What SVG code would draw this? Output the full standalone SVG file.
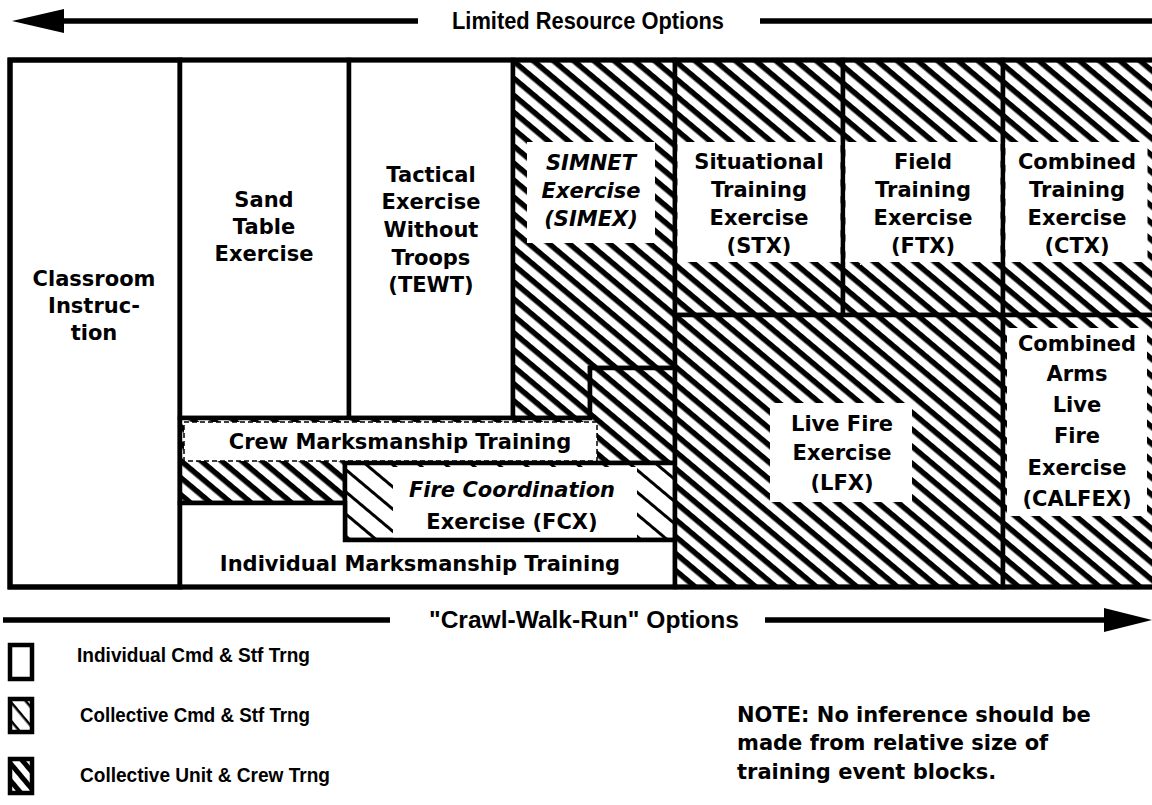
<svg xmlns="http://www.w3.org/2000/svg" width="1152" height="805" viewBox="0 0 1152 805">
<style>
.reg{stroke:#000;stroke-width:4.5;stroke-linejoin:miter}
.w{fill:#fff}
.hd{fill:url(#hd)}
.hl{fill:url(#hl)}
.lbl{fill:#fff;stroke:none}
.dash{stroke:#000;stroke-width:1.5;stroke-dasharray:5 3}
.t{font-family:"DejaVu Sans",sans-serif;font-weight:bold;font-size:21px;fill:#000;text-anchor:middle}
.it{font-style:italic}
.a{font-family:"Liberation Sans",Arial,sans-serif;font-weight:bold;font-size:24px;fill:#000;text-anchor:middle}
.lg{font-family:"Liberation Sans",Arial,sans-serif;font-weight:bold;font-size:21px;fill:#000}
.note{font-family:"DejaVu Sans",sans-serif;font-weight:bold;font-size:21px;fill:#000}
.ln{stroke:#000;stroke-width:5.5;fill:none}
</style>
<defs>
<pattern id="hd" patternUnits="userSpaceOnUse" width="13" height="13" patternTransform="rotate(40)"><rect width="13" height="13" fill="#fff"/><rect width="13" height="5.5" fill="#000"/></pattern>
<pattern id="hl" patternUnits="userSpaceOnUse" width="17" height="17" patternTransform="rotate(40)"><rect width="17" height="17" fill="#fff"/><rect width="17" height="3" fill="#000"/></pattern>
<pattern id="lgl" patternUnits="userSpaceOnUse" width="12" height="12" patternTransform="translate(10,699) rotate(50)"><rect width="12" height="12" fill="#fff"/><rect width="12" height="2.5" fill="#000"/></pattern>
<pattern id="lgd" patternUnits="userSpaceOnUse" width="11" height="11" patternTransform="translate(10,759) rotate(50)"><rect width="11" height="11" fill="#fff"/><rect width="11" height="5" fill="#000"/></pattern>
</defs>
<rect width="1152" height="805" fill="#fff"/>

<g id="connectors">
<line class="ln" x1="60" y1="21" x2="418" y2="21"/>
<polygon points="12,21 64,9 64,33" fill="#000"/>
<line class="ln" x1="760" y1="21" x2="1152" y2="21"/>
<text class="a" x="588" y="29" textLength="272" lengthAdjust="spacingAndGlyphs">Limited Resource Options</text>
<line class="ln" x1="3" y1="620" x2="390" y2="620"/>
<line class="ln" x1="765" y1="620" x2="1108" y2="620"/>
<polygon points="1104,608 1152,620 1104,632" fill="#000"/>
<text class="a" x="584" y="628" textLength="310" lengthAdjust="spacingAndGlyphs">"Crawl-Walk-Run" Options</text>
</g>

<g id="classroom">
<rect class="reg w" x="10" y="60" width="170" height="527" style="stroke-width:5"/>
<text class="t" x="94" y="286">Classroom</text>
<text class="t" x="94" y="313">Instruc-</text>
<text class="t" x="94" y="340">tion</text>
</g>

<g id="sand-table">
<rect class="reg w" x="180" y="60" width="169" height="358"/>
<text class="t" x="264" y="207">Sand</text>
<text class="t" x="264" y="234">Table</text>
<text class="t" x="264" y="261">Exercise</text>
</g>

<g id="tewt">
<rect class="reg w" x="349" y="60" width="164" height="358"/>
<text class="t" x="431" y="182">Tactical</text>
<text class="t" x="431" y="209">Exercise</text>
<text class="t" x="431" y="237">Without</text>
<text class="t" x="431" y="265">Troops</text>
<text class="t" x="431" y="292">(TEWT)</text>
</g>

<g id="simnet">
<path class="reg hd" d="M513,60 H675 V368 H590 V418 H513 Z"/>
<rect class="lbl" x="527" y="142" width="128" height="101"/>
<text class="t it" x="591" y="170">SIMNET</text>
<text class="t it" x="591" y="198">Exercise</text>
<text class="t it" x="591" y="226">(SIMEX)</text>
</g>

<g id="crew">
<path class="reg hd" d="M180,418 H590 V368 H675 V463 H345 V503 H180 Z"/>
<rect class="lbl dash" x="184" y="422" width="413" height="39"/>
<text class="t" x="400" y="449">Crew Marksmanship Training</text>
</g>

<g id="fcx">
<rect class="reg hl" x="345" y="463" width="330" height="77"/>
<rect class="lbl" x="393" y="467" width="244" height="71"/>
<text class="t it" x="512" y="497">Fire Coordination</text>
<text class="t" x="512" y="529">Exercise (FCX)</text>
</g>

<g id="individual-marksmanship">
<path class="reg w" d="M180,503 H345 V540 H675 V587 H180 Z"/>
<text class="t" x="420" y="571">Individual Marksmanship Training</text>
</g>

<g id="stx">
<rect class="reg hd" x="675" y="60" width="168" height="255"/>
<rect class="lbl" x="677.5" y="142" width="163" height="120"/>
<text class="t" x="759" y="169">Situational</text>
<text class="t" x="759" y="197">Training</text>
<text class="t" x="759" y="225">Exercise</text>
<text class="t" x="759" y="253">(STX)</text>
</g>

<g id="ftx">
<rect class="reg hd" x="843" y="60" width="160" height="255"/>
<rect class="lbl" x="845.5" y="142" width="155" height="120"/>
<text class="t" x="923" y="169">Field</text>
<text class="t" x="923" y="197">Training</text>
<text class="t" x="923" y="225">Exercise</text>
<text class="t" x="923" y="253">(FTX)</text>
</g>

<g id="ctx">
<rect class="reg hd" x="1003" y="60" width="155" height="255"/>
<rect class="lbl" x="1005.5" y="142" width="142" height="120"/>
<text class="t" x="1077" y="169">Combined</text>
<text class="t" x="1077" y="197">Training</text>
<text class="t" x="1077" y="225">Exercise</text>
<text class="t" x="1077" y="253">(CTX)</text>
</g>

<g id="lfx">
<rect class="reg hd" x="675" y="315" width="328" height="272"/>
<rect class="lbl" x="770" y="403" width="142" height="99"/>
<text class="t" x="842" y="431">Live Fire</text>
<text class="t" x="842" y="460">Exercise</text>
<text class="t" x="842" y="490">(LFX)</text>
</g>

<g id="calfex">
<rect class="reg hd" x="1003" y="315" width="155" height="272"/>
<rect class="lbl" x="1007" y="328" width="140" height="188"/>
<text class="t" x="1077" y="351">Combined</text>
<text class="t" x="1077" y="381">Arms</text>
<text class="t" x="1077" y="412">Live</text>
<text class="t" x="1077" y="443">Fire</text>
<text class="t" x="1077" y="475">Exercise</text>
<text class="t" x="1077" y="506">(CALFEX)</text>
</g>

<g id="outer-frame">
<rect x="10" y="60" width="1148" height="527" fill="none" stroke="#000" stroke-width="5"/>
</g>

<g id="legend">
<rect x="10" y="645" width="22" height="34" fill="#fff" stroke="#000" stroke-width="4.5"/>
<text class="lg" x="77" y="662" textLength="233" lengthAdjust="spacingAndGlyphs">Individual Cmd &amp; Stf Trng</text>
<rect x="10" y="699" width="22" height="33" fill="url(#lgl)" stroke="#000" stroke-width="4.5"/>
<text class="lg" x="80" y="722" textLength="230" lengthAdjust="spacingAndGlyphs">Collective Cmd &amp; Stf Trng</text>
<rect x="10" y="759" width="22" height="34" fill="url(#lgd)" stroke="#000" stroke-width="4.5"/>
<text class="lg" x="80" y="782" textLength="250" lengthAdjust="spacingAndGlyphs">Collective Unit &amp; Crew Trng</text>
</g>

<g id="note">
<text class="note" x="737" y="722">NOTE: No inference should be</text>
<text class="note" x="737" y="750">made from relative size of</text>
<text class="note" x="737" y="779">training event blocks.</text>
</g>
</svg>
